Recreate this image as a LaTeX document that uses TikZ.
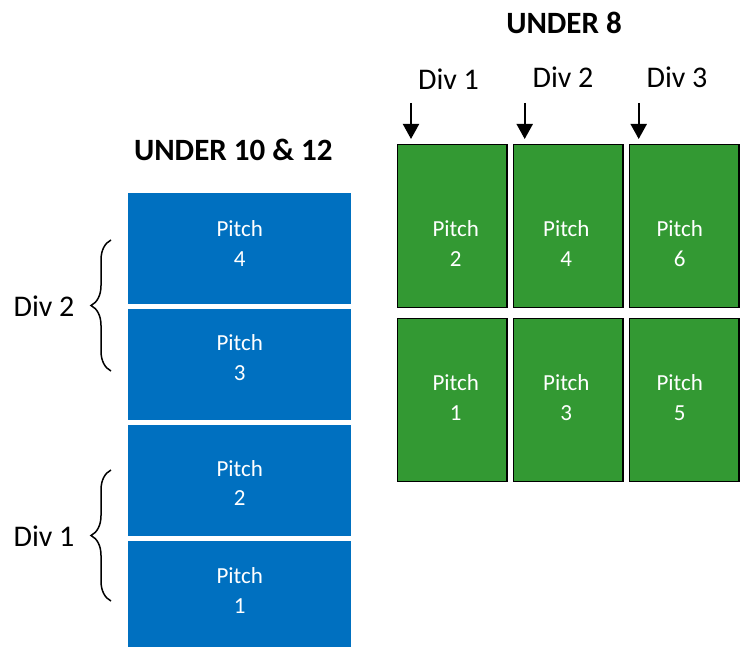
\documentclass[tikz,border=0pt]{standalone}
\usepackage{fontspec}
\setmainfont{Carlito}
\usetikzlibrary{arrows.meta,decorations.pathreplacing}
\definecolor{pitchblue}{RGB}{0,112,192}
\definecolor{pitchgreen}{RGB}{51,153,51}
\tikzset{
  bluebox/.style={fill=pitchblue, draw=none, minimum width=223pt, inner sep=0pt, outer sep=0pt},
  greenbox/.style={fill=pitchgreen, draw=black, line width=1.5pt, minimum width=109.5pt, minimum height=163pt, inner sep=0pt},
  pitchtxt/.style={text=white, font=\fontsize{23}{29.5}\selectfont, align=center, inner sep=0pt},
  divtxt/.style={font=\fontsize{30}{36}\selectfont, anchor=base, inner sep=0pt},
  titletxt/.style={font=\fontsize{31}{37}\selectfont\bfseries, anchor=base, inner sep=0pt},
  divarrow/.style={line width=2pt, -{Triangle[width=16pt,length=15pt]}},
  divbrace/.style={decorate, decoration={brace, amplitude=20pt}, line width=1.5pt}
}
\begin{document}
\begin{tikzpicture}[x=1pt,y=-1pt]
\useasboundingbox (0,0) rectangle (747,647);
% UNDER 10 & 12
\node[titletxt] (t1012) at (233.3,161) {UNDER 10 \& 12};
\node[bluebox, minimum height=110.7pt] (b4) at (239.5,248.35) {};
\node[bluebox, minimum height=110.7pt] (b3) at (239.5,364.35) {};
\node[bluebox, minimum height=110.7pt] (b2) at (239.5,480.35) {};
\node[bluebox, minimum height=106pt] (b1) at (239.5,594) {};
\node[pitchtxt] (tb4) at (239.7,243.5) {Pitch\\4};
\node[pitchtxt] (tb3) at (239.7,357.5) {Pitch\\3};
\node[pitchtxt] (tb2) at (239.7,483) {Pitch\\2};
\node[pitchtxt] (tb1) at (239.7,590.5) {Pitch\\1};
% braces
\coordinate (d2top) at (111,240);
\coordinate (d2bot) at (111,371);
\coordinate (d1top) at (111,470);
\coordinate (d1bot) at (111,601);
\draw[divbrace] (d2bot) -- (d2top);
\draw[divbrace] (d1bot) -- (d1top);
\node[divtxt] (ld2) at (44,316.7) {Div 2};
\node[divtxt] (ld1) at (44,546) {Div 1};
% UNDER 8
\node[titletxt] (t8) at (564,33.3) {UNDER 8};
\node[greenbox] (g2) at (452.2,226.2) {};
\node[greenbox] (g4) at (568.2,226.2) {};
\node[greenbox] (g6) at (684.3,226.2) {};
\node[greenbox] (g1) at (452.2,400.2) {};
\node[greenbox] (g3) at (568.2,400.2) {};
\node[greenbox] (g5) at (684.3,400.2) {};
\node[pitchtxt] (tg2) at (455.7,243.5) {Pitch\\2};
\node[pitchtxt] (tg4) at (566.3,243.5) {Pitch\\4};
\node[pitchtxt] (tg6) at (679.7,243.5) {Pitch\\6};
\node[pitchtxt] (tg1) at (455.7,397.5) {Pitch\\1};
\node[pitchtxt] (tg3) at (566.3,397.5) {Pitch\\3};
\node[pitchtxt] (tg5) at (679.7,397.5) {Pitch\\5};
\node[divtxt] (u1) at (448.5,90) {Div 1};
\node[divtxt] (u2) at (563,87.3) {Div 2};
\node[divtxt] (u3) at (677,87.3) {Div 3};
\coordinate (a1s) at (411,103);
\coordinate (a1e) at (411,139);
\coordinate (a2s) at (524.7,103);
\coordinate (a2e) at (524.7,139);
\coordinate (a3s) at (638.7,103);
\coordinate (a3e) at (638.7,139);
\draw[divarrow] (a1s) -- (a1e);
\draw[divarrow] (a2s) -- (a2e);
\draw[divarrow] (a3s) -- (a3e);
\end{tikzpicture}
\end{document}
